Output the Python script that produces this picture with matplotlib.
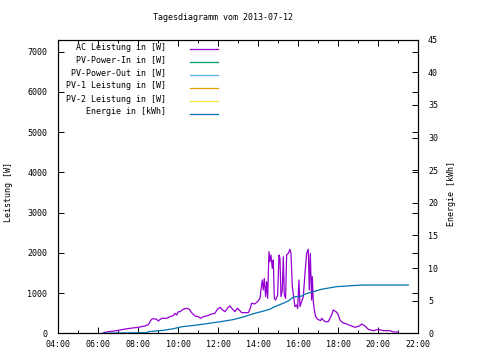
#!/usr/bin/env python3

"""Tagesdiagramm: AC-Leistung und Energie eines PV-Wechselrichters."""

import matplotlib
matplotlib.use('Agg')
import matplotlib.pyplot as plt
from matplotlib.lines import Line2D

TITLE = 'Tagesdiagramm vom 2013-07-12'

# AC Leistung in W (Uhrzeit, Wert)
ac_times = [
    '06:15', '06:30', '06:55', '07:15', '07:35', '08:00', '08:20', '08:30',
    '08:35', '08:40', '08:45', '08:55', '09:00', '09:10', '09:25', '09:35',
    '09:45', '09:50', '09:55', '10:00', '10:05', '10:15', '10:25', '10:33',
    '10:40', '10:50', '11:00', '11:07', '11:15', '11:25', '11:40', '11:50',
    '11:57', '12:05', '12:13', '12:20', '12:30', '12:35', '12:43', '12:50',
    '12:57', '13:03', '13:10', '13:30', '13:35', '13:40', '13:50', '14:00',
    '14:05', '14:08', '14:12', '14:15', '14:18', '14:22', '14:25', '14:28',
    '14:32', '14:35', '14:38', '14:42', '14:45', '14:48', '14:52', '14:58',
    '15:02', '15:05', '15:08', '15:12', '15:15', '15:18', '15:22', '15:25',
    '15:30', '15:35', '15:38', '15:42', '15:46', '15:50', '15:55', '15:58',
    '16:02', '16:05', '16:10', '16:15', '16:20', '16:25', '16:30', '16:33',
    '16:36', '16:40', '16:42', '16:45', '16:48', '16:52', '16:58', '17:07',
    '17:10', '17:20', '17:30', '17:35', '17:40', '17:45', '17:53', '17:58',
    '18:05', '18:13', '18:25', '18:40', '18:50', '19:03', '19:10', '19:20',
    '19:30', '19:45', '20:00', '20:15', '20:35', '20:45', '21:00',
]
ac_power = [
    15, 40, 65, 99, 124, 149, 182, 215,
    289, 348, 364, 348, 306, 373, 373, 414,
    439, 497, 455, 537, 537, 597, 622, 597,
    513, 430, 414, 373, 414, 430, 480, 497,
    597, 646, 580, 537, 646, 679, 597, 537,
    622, 580, 513, 513, 597, 746, 730, 810,
    870, 1077, 1325, 1077, 1367, 911, 1284, 870,
    2029, 1781, 1947, 1616, 1823, 870, 828, 953,
    1947, 1865, 911, 1077, 1906, 953, 870, 1947,
    1989, 2088, 1989, 1160, 911, 663, 704, 622,
    1325, 663, 787, 911, 1492, 1989, 2088, 1077,
    1989, 828, 1409, 787, 580, 414, 348, 315,
    373, 290, 290, 373, 455, 580, 537, 497,
    331, 265, 232, 182, 149, 182, 232, 182,
    99, 65, 99, 65, 65, 33, 33,
]

# Energie in kWh
energy_times = [
    '06:15', '08:25', '08:30', '09:15', '09:45', '10:10', '10:45', '11:15',
    '11:45', '12:15', '12:45', '13:15', '13:45', '14:15', '14:35', '14:50',
    '15:10', '15:30', '15:45', '16:10', '16:20', '16:45', '17:10', '17:55',
    '19:10', '21:30',
]
energy = [
    0.0, 0.1, 0.25, 0.45, 0.7, 1.0, 1.2, 1.4,
    1.62, 1.85, 2.1, 2.5, 3.0, 3.4, 3.7, 4.1,
    4.5, 4.95, 5.55, 5.7, 6.0, 6.38, 6.75, 7.15,
    7.4, 7.4,
]

# Serien ohne sichtbare Werte an diesem Tag
pv_in = []
pv_out = []
pv1 = []
pv2 = []

labels = ['AC Leistung in [W]', 'PV-Power-In in [W]', 'PV-Power-Out in [W]',
          'PV-1 Leistung in [W]', 'PV-2 Leistung in [W]', 'Energie in [kWh]']
colors = ['#9400d3', '#009e73', '#56b4e9', '#e69f00', '#f0e442', '#0072b2']

x_ticks = list(range(4, 23, 2))
x_ticklabels = ['%02d:00' % h for h in x_ticks]
y_ticks = list(range(0, 8000, 1000))
y2_ticks = list(range(0, 50, 5))


def to_hours(times):
    """Converts 'HH:MM' strings to decimal hours."""
    out = []
    for t in times:
        h, m = t.split(':')
        out.append(int(h) + int(m) / 60.0)
    return out


def plot_day():
    font = 'DejaVu Sans Mono'
    fs = 6
    plt.rcParams['font.family'] = font
    plt.rcParams['font.size'] = fs

    fig = plt.figure(figsize=(4.8, 3.6), dpi=100)
    W, H = 480.0, 360.0
    left, right, top, bottom = 58.3, 418.3, 39.7, 333.3
    ax = fig.add_axes([left / W, 1 - bottom / H, (right - left) / W, (bottom - top) / H])
    ax2 = ax.twinx()

    ax.plot(to_hours(ac_times), ac_power, color=colors[0], lw=0.9)
    ax.plot(to_hours(pv_in), pv_in, color=colors[1], lw=0.9)
    ax.plot(to_hours(pv_out), pv_out, color=colors[2], lw=0.9)
    ax.plot(to_hours(pv1), pv1, color=colors[3], lw=0.9)
    ax.plot(to_hours(pv2), pv2, color=colors[4], lw=0.9)
    ax2.plot(to_hours(energy_times), energy, color=colors[5], lw=0.9)

    ax.set_xlim(4, 22)
    ax.set_ylim(0, 7300)
    ax2.set_ylim(0, 45)

    ax.set_xticks(x_ticks)
    ax.set_xticklabels(x_ticklabels)
    ax.set_xticks(range(4, 23), minor=True)
    ax.set_yticks(y_ticks)
    ax.set_yticklabels([str(v) for v in y_ticks])
    ax2.set_yticks(y2_ticks)
    ax2.set_yticklabels([str(v) for v in y2_ticks])

    ax.tick_params(axis='x', which='major', direction='in', top=True, length=4,
                   width=0.7, pad=5, labelsize=fs)
    ax.tick_params(axis='x', which='minor', direction='in', top=True, length=2,
                   width=0.7)
    ax.tick_params(axis='y', direction='in', right=True, length=4, width=0.7,
                   pad=8, labelsize=fs)
    ax2.tick_params(axis='y', direction='in', length=4, width=0.7, pad=7,
                    labelsize=fs)
    ax2.tick_params(axis='x', which='both', top=False, bottom=False)

    for a in (ax, ax2):
        for s in a.spines.values():
            s.set_linewidth(0.8)

    fig.text(223 / W, 1 - 18 / H, TITLE, ha='center', va='center', fontsize=fs)
    fig.text(9 / W, 1 - 192 / H, 'Leistung [W]', rotation=90, ha='center',
             va='center', fontsize=fs)
    fig.text(452 / W, 1 - 193 / H, 'Energie [kWh]', rotation=90, ha='center',
             va='center', fontsize=fs)

    # Legende wie bei gnuplot: Text rechtsbündig, Linie rechts daneben
    for i, (label, color) in enumerate(zip(labels, colors)):
        py = 47 + 13 * i
        fig.text(166 / W, 1 - py / H, label, ha='right', va='center', fontsize=fs)
        fig.add_artist(Line2D([190 / W, 218 / W], [1 - (py + 2) / H] * 2,
                              color=color, lw=0.9, transform=fig.transFigure))

    fig.savefig('out.png', dpi=100)


if __name__ == '__main__':
    plot_day()
